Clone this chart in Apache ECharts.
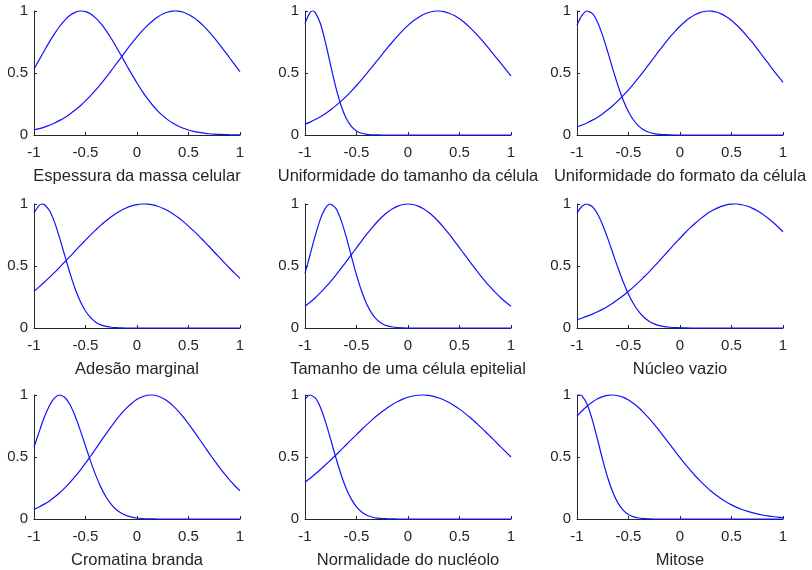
<!DOCTYPE html>
<html lang="pt">
<head>
  <meta charset="UTF-8">
  <title>funcoes de pertinencia</title>
  <style>
    html, body, #main { margin: 0; padding: 0; }
    #main { width: 812px; height: 570px; background: #fff; }
  </style>
</head>
<body>
  <div id="main"></div>
  <script src="https://cdn.jsdelivr.net/npm/echarts@6/dist/echarts.min.js"></script>
  <script>
    // x grid shared by all curves
    const xs = [-1, -0.95, -0.9, -0.85, -0.8, -0.75, -0.7, -0.65, -0.6, -0.55, -0.5, -0.45, -0.4, -0.35, -0.3, -0.25, -0.2, -0.15, -0.1, -0.05,
      0, 0.05, 0.1, 0.15, 0.2, 0.25, 0.3, 0.35, 0.4, 0.45, 0.5, 0.55, 0.6, 0.65, 0.7, 0.75, 0.8, 0.85, 0.9, 0.95, 1];

    const titles = [
      'Espessura da massa celular', 'Uniformidade do tamanho da célula', 'Uniformidade do formato da célula',
      'Adesão marginal', 'Tamanho de uma célula epitelial', 'Núcleo vazio',
      'Cromatina branda', 'Normalidade do nucléolo', 'Mitose'
    ];
    const xTicks = [-1, -0.5, 0, 0.5, 1];
    const yTicks = [0, 0.5, 1];

    // where each curve tops out at 1
    const peakLowX = [-0.54, -0.926, -0.894, -0.919, -0.752, -0.903, -0.748, -0.945, -0.974];
    const peakHighX = [0.371, 0.29, 0.281, 0.07, 0, 0.53, 0.135, 0.14, -0.66];

    // membership values on xs, two curves per input
    const mf1Low = [0.532, 0.606, 0.680, 0.751, 0.817, 0.877, 0.927, 0.965, 0.989, 1.000, 0.995, 0.976, 0.943, 0.898, 0.842, 0.778, 0.708, 0.635, 0.561, 0.489,
      0.419, 0.354, 0.295, 0.242, 0.195, 0.156, 0.122, 0.094, 0.072, 0.054, 0.040, 0.029, 0.021, 0.015, 0.010, 0.007, 0.005, 0.003, 0.002, 0.001, 0.001];
    const mf1High = [0.041, 0.051, 0.064, 0.079, 0.097, 0.118, 0.142, 0.170, 0.201, 0.236, 0.275, 0.318, 0.364, 0.413, 0.465, 0.519, 0.575, 0.630, 0.686, 0.740,
      0.791, 0.839, 0.882, 0.920, 0.952, 0.976, 0.992, 0.999, 0.999, 0.990, 0.972, 0.947, 0.915, 0.876, 0.832, 0.783, 0.731, 0.677, 0.621, 0.566, 0.510];

    const mf2Low = [0.902, 0.989, 0.987, 0.897, 0.742, 0.558, 0.382, 0.238, 0.135, 0.070, 0.033, 0.014, 0.005, 0.002, 0.001,
      0, 0, 0, 0, 0, 0, 0, 0, 0, 0, 0, 0, 0, 0, 0, 0, 0, 0, 0, 0, 0, 0, 0, 0, 0, 0];
    const mf2High = [0.087, 0.104, 0.125, 0.148, 0.174, 0.204, 0.237, 0.273, 0.312, 0.354, 0.399, 0.447, 0.497, 0.548, 0.599, 0.651, 0.703, 0.752, 0.799, 0.844,
      0.884, 0.919, 0.948, 0.972, 0.988, 0.998, 1.000, 0.995, 0.982, 0.963, 0.937, 0.905, 0.868, 0.826, 0.781, 0.733, 0.682, 0.631, 0.579, 0.527, 0.477];

    const mf3Low = [0.886, 0.967, 1.000, 0.979, 0.909, 0.799, 0.666, 0.525, 0.393, 0.278, 0.187, 0.119, 0.072, 0.041, 0.022, 0.011, 0.005, 0.003, 0.001,
      0, 0, 0, 0, 0, 0, 0, 0, 0, 0, 0, 0, 0, 0, 0, 0, 0, 0, 0, 0, 0, 0];
    const mf3High = [0.066, 0.081, 0.099, 0.120, 0.144, 0.172, 0.203, 0.238, 0.277, 0.319, 0.364, 0.413, 0.464, 0.517, 0.572, 0.627, 0.682, 0.735, 0.787, 0.834,
      0.877, 0.915, 0.947, 0.972, 0.989, 0.998, 0.999, 0.992, 0.977, 0.954, 0.924, 0.887, 0.845, 0.798, 0.748, 0.695, 0.640, 0.585, 0.530, 0.477, 0.425];

    const mf4Low = [0.928, 0.989, 0.996, 0.947, 0.852, 0.723, 0.581, 0.440, 0.315, 0.214, 0.137, 0.083, 0.047, 0.025, 0.013, 0.006, 0.003, 0.001,
      0, 0, 0, 0, 0, 0, 0, 0, 0, 0, 0, 0, 0, 0, 0, 0, 0, 0, 0, 0, 0, 0, 0];
    const mf4High = [0.297, 0.332, 0.369, 0.408, 0.448, 0.491, 0.534, 0.577, 0.622, 0.666, 0.709, 0.751, 0.791, 0.830, 0.865, 0.897, 0.926, 0.950, 0.970, 0.985,
      0.995, 1.000, 0.999, 0.993, 0.982, 0.966, 0.946, 0.920, 0.891, 0.858, 0.822, 0.783, 0.743, 0.700, 0.657, 0.613, 0.569, 0.525, 0.482, 0.440, 0.400];

    const mf5Low = [0.440, 0.593, 0.747, 0.880, 0.969, 1.000, 0.965, 0.870, 0.735, 0.580, 0.428, 0.296, 0.191, 0.116, 0.065, 0.035, 0.017, 0.008, 0.003, 0.001,
      0, 0, 0, 0, 0, 0, 0, 0, 0, 0, 0, 0, 0, 0, 0, 0, 0, 0, 0, 0, 0];
    const mf5High = [0.176, 0.208, 0.244, 0.285, 0.329, 0.376, 0.427, 0.480, 0.535, 0.591, 0.647, 0.703, 0.757, 0.808, 0.855, 0.897, 0.933, 0.962, 0.983, 0.996,
      1.000, 0.996, 0.983, 0.962, 0.933, 0.897, 0.855, 0.808, 0.757, 0.703, 0.647, 0.591, 0.535, 0.480, 0.427, 0.376, 0.329, 0.285, 0.244, 0.208, 0.176];

    const mf6Low = [0.928, 0.982, 1.000, 0.978, 0.919, 0.829, 0.719, 0.599, 0.480, 0.369, 0.273, 0.194, 0.132, 0.087, 0.055, 0.033, 0.019, 0.011, 0.006, 0.003,
      0.002, 0.001, 0, 0, 0, 0, 0, 0, 0, 0, 0, 0, 0, 0, 0, 0, 0, 0, 0, 0, 0];
    const mf6High = [0.068, 0.081, 0.096, 0.112, 0.131, 0.152, 0.176, 0.202, 0.231, 0.262, 0.296, 0.332, 0.370, 0.411, 0.453, 0.497, 0.542, 0.588, 0.634, 0.680,
      0.724, 0.768, 0.809, 0.847, 0.882, 0.914, 0.941, 0.963, 0.981, 0.993, 0.999, 1.000, 0.994, 0.984, 0.967, 0.946, 0.920, 0.889, 0.855, 0.817, 0.776];

    const mf7Low = [0.579, 0.703, 0.820, 0.914, 0.977, 1.000, 0.980, 0.921, 0.828, 0.713, 0.589, 0.465, 0.352, 0.255, 0.177, 0.118, 0.075, 0.046, 0.027, 0.015,
      0.008, 0.004, 0.002, 0.001, 0, 0, 0, 0, 0, 0, 0, 0, 0, 0, 0, 0, 0, 0, 0, 0, 0];
    const mf7High = [0.078, 0.097, 0.120, 0.146, 0.177, 0.212, 0.251, 0.295, 0.343, 0.395, 0.450, 0.508, 0.567, 0.628, 0.687, 0.745, 0.801, 0.851, 0.896, 0.934,
      0.965, 0.986, 0.998, 1.000, 0.992, 0.974, 0.948, 0.912, 0.870, 0.822, 0.768, 0.711, 0.651, 0.591, 0.531, 0.473, 0.416, 0.363, 0.313, 0.268, 0.227];

    const mf8Low = [0.965, 1.000, 0.976, 0.899, 0.781, 0.639, 0.494, 0.359, 0.246, 0.160, 0.097, 0.056, 0.030, 0.016, 0.007, 0.003, 0.002, 0.001,
      0, 0, 0, 0, 0, 0, 0, 0, 0, 0, 0, 0, 0, 0, 0, 0, 0, 0, 0, 0, 0, 0, 0];
    const mf8High = [0.296, 0.328, 0.363, 0.399, 0.437, 0.476, 0.516, 0.557, 0.599, 0.640, 0.681, 0.722, 0.761, 0.799, 0.834, 0.867, 0.898, 0.924, 0.947, 0.967,
      0.982, 0.992, 0.998, 1.000, 0.997, 0.989, 0.976, 0.960, 0.939, 0.914, 0.886, 0.854, 0.820, 0.784, 0.745, 0.706, 0.665, 0.624, 0.582, 0.541, 0.500];

    const mf9Low = [0.990, 0.991, 0.922, 0.796, 0.639, 0.475, 0.329, 0.211, 0.126, 0.070, 0.036, 0.017, 0.008, 0.003, 0.001,
      0, 0, 0, 0, 0, 0, 0, 0, 0, 0, 0, 0, 0, 0, 0, 0, 0, 0, 0, 0, 0, 0, 0, 0, 0, 0];
    const mf9High = [0.830, 0.873, 0.911, 0.943, 0.969, 0.987, 0.997, 1.000, 0.994, 0.981, 0.960, 0.931, 0.897, 0.856, 0.811, 0.763, 0.711, 0.657, 0.603, 0.549,
      0.495, 0.443, 0.394, 0.347, 0.303, 0.263, 0.226, 0.193, 0.163, 0.137, 0.114, 0.094, 0.077, 0.063, 0.051, 0.041, 0.032, 0.025, 0.020, 0.015, 0.012];

    const lows = [mf1Low, mf2Low, mf3Low, mf4Low, mf5Low, mf6Low, mf7Low, mf8Low, mf9Low];
    const highs = [mf1High, mf2High, mf3High, mf4High, mf5High, mf6High, mf7High, mf8High, mf9High];

    // pairs [x, y] plus the peak sample, sorted by x
    const toPoints = (ys, peakX) => {
      const pts = xs.map((x, k) => [x, ys[k]]);
      if (!xs.some(x => Math.abs(x - peakX) < 1e-9)) pts.push([peakX, 1]);
      return pts.sort((a, b) => a[0] - b[0]);
    };

    const draw = () => {
      const myChart = echarts.init(document.getElementById('main'));
      const ink = '#262626';
      const font = 'Liberation Sans, Arial, sans-serif';
      const cols = [34, 305, 577];
      const rows = [11, 204, 395];

      const grid = [], xAxis = [], yAxis = [], series = [];
      titles.forEach((t, i) => {
        grid.push({ left: cols[i % 3], top: rows[Math.floor(i / 3)], width: 206, height: 124 });
        xAxis.push({
          type: 'value', gridIndex: i,
          min: xTicks[0], max: xTicks[xTicks.length - 1], interval: xTicks[1] - xTicks[0],
          name: t, nameLocation: 'middle', nameGap: 33,
          nameTextStyle: { fontSize: 16.5, color: ink, fontFamily: font },
          axisLine: { show: true, onZero: false, lineStyle: { color: ink, width: 1 } },
          axisTick: { show: true, inside: true, length: 3, lineStyle: { color: ink } },
          axisLabel: { fontSize: 15, color: ink, margin: 10, fontFamily: font },
          splitLine: { show: false }
        });
        yAxis.push({
          type: 'value', gridIndex: i,
          min: yTicks[0], max: yTicks[yTicks.length - 1], interval: yTicks[1] - yTicks[0],
          axisLine: { show: true, onZero: false, lineStyle: { color: ink, width: 1 } },
          axisTick: { show: true, inside: true, length: 3, lineStyle: { color: ink } },
          axisLabel: { fontSize: 15, color: ink, margin: 6, fontFamily: font },
          splitLine: { show: false }
        });
        [toPoints(lows[i], peakLowX[i]), toPoints(highs[i], peakHighX[i])].forEach(pts => {
          series.push({
            type: 'line', xAxisIndex: i, yAxisIndex: i,
            data: pts,
            smooth: 0.3, showSymbol: false, clip: false, silent: true,
            lineStyle: { color: '#1010ff', width: 1.2 }
          });
        });
      });

      myChart.setOption({ animation: false, grid, xAxis, yAxis, series });
    };

    draw();
  </script>
</body>
</html>
